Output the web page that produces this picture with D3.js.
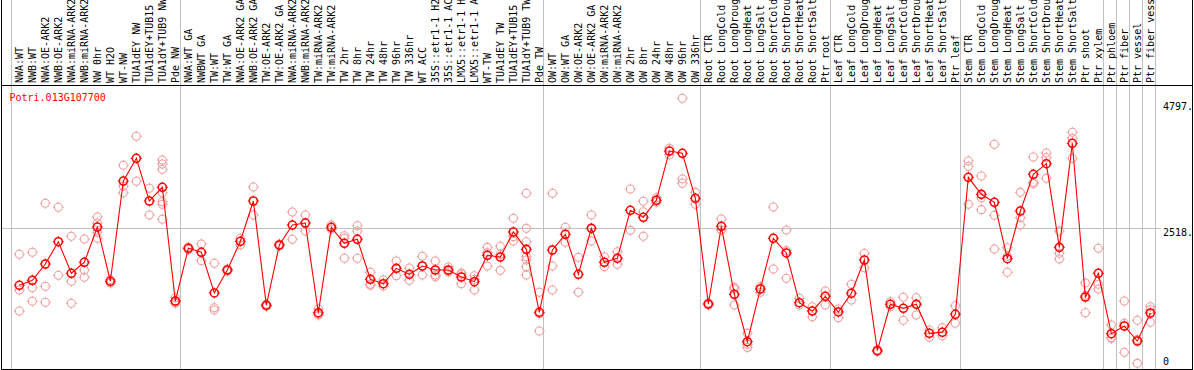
<!DOCTYPE html>
<html><head><meta charset="utf-8">
<script src="https://cdn.jsdelivr.net/npm/d3@7"></script>
<style>
html,body{margin:0;padding:0;background:#fff;}
svg{display:block;}
text{font-family:"DejaVu Sans Mono",monospace;font-size:10px;}
</style></head>
<body><svg id="c" width="1194" height="370"></svg>
<script>
const title = "Potri.013G107700";
const samples = [
"NWA:WT","NWB:WT","NWA:OE-ARK2","NWB:OE-ARK2","NWA:miRNA-ARK2","NWB:miRNA-ARK2","NW 0hr","WT H2O","WT-NW","TUA1dEY NW","TUA1dEY+TUB15 NW","TUA1dY+TUB9 NW","Pde NW",
"NWA:WT GA","NWBWT GA","TW:WT","TW:WT GA","NWA:OE-ARK2 GA","NWB:OE-ARK2 GA","TW:OE-ARK2","TW:OE-ARK2 GA","NWA:miRNA-ARK2","NWB:miRNA-ARK2","TW:miRNA-ARK2","TW:miRNA-ARK2","TW 2hr","TW 8hr","TW 24hr","TW 48hr","TW 96hr","TW 336hr","WT ACC","35S::etr1-1 H2O","35S::etr1-1 ACC","LMX5::etr1-1 H2O","LMX5::etr1-1 ACC","WT-TW","TUA1dEY TW","TUA1dEY+TUB15 TW","TUA1dY+TUB9 TW","Pde TW",
"OW:WT","OW:WT GA","OW:OE-ARK2","OW:OE-ARK2 GA","OW:miRNA-ARK2","OW:miRNA-ARK2","OW 2hr","OW 8hr","OW 24hr","OW 48hr","OW 96hr","OW 336hr",
"Root CTR","Root LongCold","Root LongDrought","Root LongHeat","Root LongSalt","Root ShortCold","Root ShortDrought","Root ShortHeat","Root ShortSalt","Ptr root",
"Leaf CTR","Leaf LongCold","Leaf LongDrought","Leaf LongHeat","Leaf LongSalt","Leaf ShortCold","Leaf ShortDrought","Leaf ShortHeat","Leaf ShortSalt","Ptr leaf",
"Stem CTR","Stem LongCold","Stem LongDrought","Stem LongHeat","Stem LongSalt","Stem ShortCold","Stem ShortDrought","Stem ShortHeat","Stem ShortSalt","Ptr shoot","Ptr xylem",
"Ptr phloem","Ptr fiber","Ptr vessel","Ptr fiber vessel"];
const groupBounds = [0,13,41,53,63,73,84,85,86,87,88];
const means = [1520,1607,1893,2284,1730,1923,2541,1590,3347,3745,2997,3237,1244,
2168,2098,1385,1788,2291,2997,1169,2226,2576,2611,1039,2536,2256,2326,1625,1548,1817,1712,1858,1788,1788,1665,1583,2045,2015,2454,2150,1046,
2138,2413,1712,2518,1923,1993,2834,2711,3009,3873,3833,3044,
1192,2554,1362,531,1455,2343,2086,1215,1069,1327,
1052,1379,1963,373,1187,1116,1187,678,696,1011,
3412,3114,2974,1986,2822,3465,3651,2185,4008,1314,1730,
671,806,543,1034];
const replicates = [
[2063,1437,1069],[2098,1477,1239],[2957,1502,1222],[2887,1695],[2378,1590,1204],[2331,1788,1660],[2717,2611,2448,2343],[1560,1620],[3623,3260,3142],[4131,3342],[3220,2752],[3716,3645,3553,3142,2985,2939,2676],[1302,1226,1204],
[2190,2146],[2243,1951],[1905,1127,1087],[1770,1805],[2343,2226],[3242,2752],[1150,1190],[2210,2240],[2804,2326],[2752,2471],[999,1104,1015],[2576,2500],[2389,2343,1993],[2564,2471,1993],[1747,1537,1520],[1612,1507],[1945,1688],[1823,1607],[2028,1700],[1945,1700,1670],[1840,1770,1753],[1735,1548,1712],[1688,1437,1625],[2185,1858,2092],[2203,1782,2060],[2694,2296,2372],[3132,2518,2284,2021,1963,1846,1700],[1397,719,1020],
[3132,1858,1437],[2536,2273],[2010,1397],[2752,2296],[2021,1846],[2108,1888],[3207,2483],[2992,2809,2378],[3055,2974],[3921,3803],[4797,3383,3307],[3149,2939],
[1210,1175],[2681,2489,2492],[1484,1455,1174],[678,485,430],[1495,1397],[2892,1805],[2489,1642,2127],[1292,1174],[1144,969],[1420,1174],
[952,1104],[1537,1262],[2080,1828],[360,390],[1144,1230],[1309,906],[1302,999],[736,608],[776,636],[1162,854],
[3698,3605,2939],[3435,3055,2845],[3991,2746,2156],[2178,1747,2030],[3149,2704,2576],[3768,3325,3300],[3838,3756,3395],[2471,2080,1980],[4201,4096,3745],[1560,1039,1343],[2168,1537,1455],
[824,591,600],[1244,854,345],[906,152,570],[1144,871,1090]];
const yTicks = [4797, 2518, 0];
const yTickLabels = ["4797.", "2518.", "0"];

const svg = d3.select("#c");
const W = 1194, H = 370;
const headerBottom = 85.5, plotBottom = 369.5;
// boundaries scale (index of column edge -> px)
const xb = d3.scaleLinear().domain([0, samples.length]).range([10.5, 10.5 + 13 * samples.length]);
const xp = i => xb(i + 0.68);
const y = d3.scaleLinear().domain([0, 4797]).range([372, 98.3]);

// grid: vertical separators
svg.append("g").selectAll("line").data(groupBounds).join("line")
  .attr("x1", d => Math.round(xb(d)) + 0.5).attr("x2", d => Math.round(xb(d)) + 0.5)
  .attr("y1", 0).attr("y2", plotBottom)
  .attr("stroke", "#c0c0c0").attr("stroke-width", 1);

// horizontal grid at middle tick
svg.append("line")
  .attr("x1", 2).attr("x2", 1161)
  .attr("y1", Math.round(y(yTicks[1])) + 0.5).attr("y2", Math.round(y(yTicks[1])) + 0.5)
  .attr("stroke", "#c0c0c0");

// frame
const frame = svg.append("g").attr("stroke", "#000").attr("stroke-width", 1);
frame.append("line").attr("x1", 1.5).attr("x2", 1.5).attr("y1", 0).attr("y2", plotBottom);
frame.append("line").attr("x1", 1192.5).attr("x2", 1192.5).attr("y1", 0).attr("y2", plotBottom);
frame.append("line").attr("x1", 1).attr("x2", 1193).attr("y1", headerBottom).attr("y2", headerBottom);
frame.append("line").attr("x1", 1).attr("x2", 1193).attr("y1", plotBottom).attr("y2", plotBottom);

// header labels
svg.append("g").selectAll("text").data(samples).join("text")
  .attr("transform", (d, i) => `translate(${xp(i) + 3.5},83) rotate(-90)`)
  .attr("fill", "#000")
  .text(d => d);

// title
svg.append("text").attr("x", 9.5).attr("y", 100.5).attr("fill", "#ff0000").text(title);

// y tick labels
svg.append("g").selectAll("text").data(yTicks).join("text")
  .attr("x", 1163)
  .attr("y", (d, i) => i === 0 ? y(d) + 12 : (i === 1 ? y(d) + 8 : 365))
  .attr("fill", "#000")
  .text((d, i) => yTickLabels[i]);

function marker(g, cx, cy, color, sw) {
  g.append("circle").attr("cx", cx).attr("cy", cy).attr("r", 4)
    .attr("fill", "none").attr("stroke", color).attr("stroke-width", sw);
  g.append("path")
    .attr("d", `M${cx - 5.5},${cy}h1.5M${cx + 4},${cy}h1.5M${cx},${cy - 5.5}v1.5M${cx},${cy + 4}v1.5`)
    .attr("stroke", color).attr("stroke-width", 1).attr("fill", "none");
}

// replicates
const gr = svg.append("g");
replicates.forEach((reps, i) => reps.forEach(v => marker(gr, xp(i), y(v), "#f0a0a0", 1.1)));

// mean line
const line = d3.line().x((d, i) => xp(i)).y(d => y(d));
svg.append("path").datum(means).attr("d", line)
  .attr("fill", "none").attr("stroke", "#ff0000").attr("stroke-width", 1.1);

// mean markers
const gm = svg.append("g");
means.forEach((v, i) => marker(gm, xp(i), y(v), "#ff0000", 1.6));
</script>
</body></html>
